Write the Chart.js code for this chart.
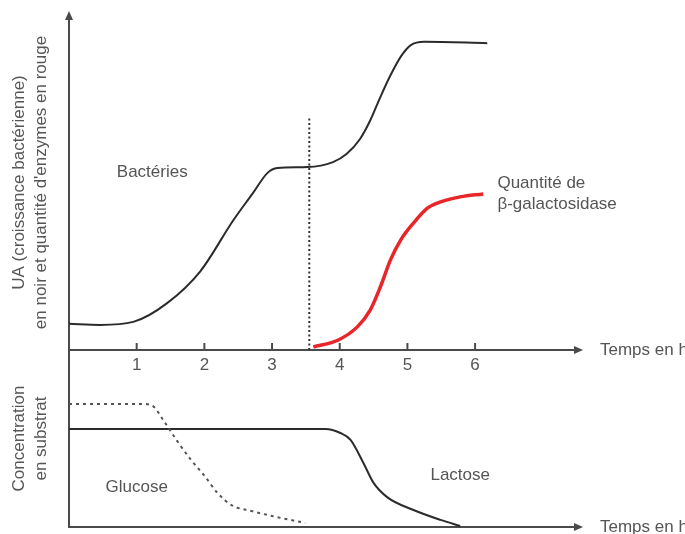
<!DOCTYPE html>
<html>
<head>
<meta charset="utf-8">
<script src="https://cdn.jsdelivr.net/npm/chart.js@4.4.1/dist/chart.umd.min.js"></script>
<style>
body{margin:0;background:#fff;}
#wrap{position:relative;width:685px;height:534px;overflow:hidden;}
#top{position:absolute;left:0;top:0;}
#bottom{position:absolute;left:0;top:350px;}
</style>
</head>
<body>
<div id="wrap">
<canvas id="top" width="685" height="380"></canvas>
<canvas id="bottom" width="685" height="184"></canvas>
</div>
<script>
// time in hours, values in arbitrary units (UA)
const bacteriaTime = [0,0.46,0.95,1.45,1.94,2.43,2.72,2.93,3.08,3.52,3.9,4.1,4.3,4.45,4.6,4.75,4.9,5.05,5.25,6.18]
const bacteriaUA = [7.8,7.5,8.4,14,23.5,38.8,46.9,52.8,54.3,54.6,56.1,58.5,63,68.5,75.5,82,87.5,91,92,91.6]

const enzymeTime = [3.61,3.98,4.26,4.45,4.6,4.75,4.9,5.09,5.3,5.49,5.78,6.12]
const enzymeUA = [0.9,3,6.9,11.9,18.8,26.9,32.8,37.9,42.4,44.2,45.7,46.6]

// dotted marker where lactose takes over
const switchTime = [3.55,3.55]
const switchUA = [0,69.6]

const glucoseTime = [0,1.1,1.25,1.4,1.6,1.8,2.0,2.2,2.4,2.7,3.0,3.49]
const glucoseConc = [69.5,69.5,68,60,48.5,38,29,19,12.4,9,6.2,2.3]

const lactoseTime = [0,3.79,4.01,4.16,4.35,4.5,4.7,5.09,5.49,5.78]
const lactoseConc = [55.4,55.4,53.1,49.2,36.2,24.9,16.9,9.6,4.0,0.6]

const timeTicks = [1,2,3,4,5,6]

const AXIS = '#4a4a4a'
const TEXT = '#555'
const FONT = '"Liberation Sans", Arial, sans-serif'

function pts(xs, ys){
  return xs.map((x,i) => ({x:x, y:ys[i]}))
}

const axisDeco = {
  id:'axisDeco',
  afterDraw(chart, args, opts){
    const ctx = chart.ctx
    const xs = chart.scales.x
    const ys = chart.scales.y
    const a = chart.chartArea
    const axisY = ys.getPixelForValue(0)
    ctx.save()
    ctx.fillStyle = AXIS
    ctx.strokeStyle = AXIS
    ctx.lineWidth = 2
    // arrow heads
    ctx.beginPath()
    ctx.moveTo(a.right+3, axisY)
    ctx.lineTo(a.right-6, axisY-4)
    ctx.lineTo(a.right-6, axisY+4)
    ctx.closePath()
    ctx.fill()
    if(opts.arrowUp){
      ctx.beginPath()
      ctx.moveTo(a.left, a.top-4)
      ctx.lineTo(a.left-4, a.top+5)
      ctx.lineTo(a.left+4, a.top+5)
      ctx.closePath()
      ctx.fill()
    }
    if(opts.tickMarks){
      xs.ticks.forEach(t => {
        const px = xs.getPixelForValue(t.value)
        ctx.beginPath()
        ctx.moveTo(px, axisY-7)
        ctx.lineTo(px, axisY)
        ctx.stroke()
      })
    }
    ctx.fillStyle = TEXT
    ctx.font = '17px ' + FONT
    ctx.textBaseline = 'middle'
    ctx.textAlign = 'left'
    ctx.fillText('Temps en h', a.right+20, axisY)
    opts.labels.forEach(l => {
      ctx.textAlign = l.align
      l.lines.forEach((s,i) => {
        ctx.fillText(s, xs.getPixelForValue(l.x), ys.getPixelForValue(l.y) + i*21)
      })
    })
    ctx.restore()
  }
}

function makeChart(id, datasets, yMax, yTitle, pad, deco, showTickLabels){
  return new Chart(document.getElementById(id), {
    type:'line',
    data:{datasets:datasets},
    options:{
      responsive:false,
      animation:false,
      layout:{padding:pad},
      elements:{point:{radius:0}, line:{cubicInterpolationMode:'monotone'}},
      plugins:{legend:{display:false}, tooltip:{enabled:false}, axisDeco:deco},
      scales:{
        x:{
          type:'linear', min:0, max:7.55,
          position:{y:0},
          grid:{display:false, drawTicks:false},
          border:{display:true, color:AXIS, width:2},
          afterBuildTicks: s => { s.ticks = timeTicks.map(v => ({value:v})) },
          ticks:{display:showTickLabels, padding:5, color:TEXT, font:{family:FONT, size:17}}
        },
        y:{
          type:'linear', min:0, max:yMax,
          grid:{display:false, drawTicks:false},
          border:{display:true, color:AXIS, width:2},
          ticks:{display:false},
          title:{display:true, text:yTitle, color:TEXT, font:{family:FONT, size:17, lineHeight:'22px'}, padding:{top:1, bottom:17}}
        }
      }
    },
    plugins:[axisDeco]
  })
}

makeChart('top', [
  {data:pts(bacteriaTime, bacteriaUA), borderColor:'#2b2b2b', borderWidth:2},
  {data:pts(enzymeTime, enzymeUA), borderColor:'#e8262a', borderWidth:3.5},
  {data:pts(switchTime, switchUA), borderColor:'#333', borderWidth:2, borderDash:[2,2.5], cubicInterpolationMode:'default', tension:0}
], 100, ['UA (croissance bactérienne)', "en noir et quantité d'enzymes en rouge"],
  {left:7, right:105, top:15, bottom:30},
  {arrowUp:true, tickMarks:true, labels:[
    {x:1.23, y:53.1, align:'center', lines:['Bactéries']},
    {x:6.33, y:49.9, align:'left', lines:['Quantité de', 'β-galactosidase']}
  ]}, true)

makeChart('bottom', [
  {data:pts(glucoseTime, glucoseConc), borderColor:'#555', borderWidth:2, borderDash:[3,4]},
  {data:pts(lactoseTime, lactoseConc), borderColor:'#2b2b2b', borderWidth:2}
], 100, ['Concentration', 'en substrat'],
  {left:7, right:105, top:0, bottom:7},
  {arrowUp:false, tickMarks:false, labels:[
    {x:1.0, y:22.6, align:'center', lines:['Glucose']},
    {x:5.78, y:29.4, align:'center', lines:['Lactose']}
  ]}, false)
</script>
</body>
</html>
